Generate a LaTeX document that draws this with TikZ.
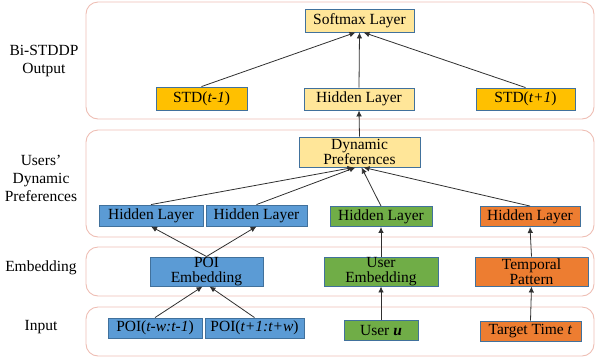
\documentclass[tikz,border=0pt]{standalone}
\usepackage{fontspec}
\setmainfont{Liberation Serif}
\usetikzlibrary{arrows.meta,calc}
\definecolor{lyellow}{HTML}{FFE699}
\definecolor{gold}{HTML}{FFC000}
\definecolor{bblue}{HTML}{5B9BD5}
\definecolor{bgreen}{HTML}{70AD47}
\definecolor{borange}{HTML}{ED7D31}
\definecolor{bedge}{HTML}{41719C}
\definecolor{panel}{RGB}{238,190,180}
\definecolor{arr}{HTML}{303030}
\tikzset{
  box/.style={rectangle,draw=bedge,line width=0.9pt,inner sep=0pt,align=center,
    font=\fontsize{15.5}{15.5}\selectfont},
  panelbox/.style={draw=panel,line width=0.9pt,rounded corners=12pt},
  lab/.style={align=center,font=\fontsize{15.5}{18}\selectfont},
  con/.style={draw=arr,line width=0.8pt,-{Latex[length=6pt,width=5.5pt]}},
}
\begin{document}
\begin{tikzpicture}[x=1pt,y=-1pt]
\useasboundingbox (0,0) rectangle (597,360);
% panels
\draw[panelbox] (86,2) rectangle (594,119);
\draw[panelbox] (86,130) rectangle (594,237);
\draw[panelbox] (86,247) rectangle (594,296);
\draw[panelbox] (86,307) rectangle (594,356);
% labels
\node[lab] (l1) at (44,61) {Bi-STDDP\\Output};
\node[lab] (l2) at (41,178) {Users'\\Dynamic\\Preferences};
\node[lab] (l3) at (41,268) {Embedding};
\node[lab] (l4) at (41,327) {Input};
% output layer
\node[box,fill=lyellow,minimum width=109,minimum height=23] (sm) at (359.5,20.5) {Softmax Layer};
\node[box,fill=gold,minimum width=91,minimum height=23] (stdm) at (201.5,98.5) {STD(\textit{t-1})};
\node[box,fill=lyellow,minimum width=110,minimum height=22] (hy) at (359,99) {Hidden Layer};
\node[box,fill=gold,minimum width=99,minimum height=22] (stdp) at (525.5,99) {STD(\textit{t+1})};
% dynamic preferences
\node[box,fill=lyellow,minimum width=121,minimum height=30] (dp) at (359.5,152) {Dynamic\\Preferences};
\node[box,fill=bblue,minimum width=104,minimum height=21] (hb1) at (151,215.5) {Hidden Layer};
\node[box,fill=bblue,minimum width=101,minimum height=21] (hb2) at (256.5,215.5) {Hidden Layer};
\node[box,fill=bgreen,minimum width=102,minimum height=20] (hg) at (381,216.5) {Hidden Layer};
\node[box,fill=borange,minimum width=100,minimum height=20] (ho) at (530,216.5) {Hidden Layer};
% embedding
\node[box,fill=bblue,minimum width=113,minimum height=29] (pe) at (206.5,271.5) {POI\\Embedding};
\node[box,fill=bgreen,minimum width=114,minimum height=29] (ue) at (381,271.5) {User\\Embedding};
\node[box,fill=borange,minimum width=113,minimum height=29] (tp) at (531.5,271.5) {Temporal\\Pattern};
% input
\node[box,fill=bblue,minimum width=94,minimum height=20] (p1) at (155,328) {POI(\textit{t-w:t-1})};
\node[box,fill=bblue,minimum width=99,minimum height=20] (p2) at (254.5,328) {POI(\textit{t+1:t+w})};
\node[box,fill=bgreen,minimum width=74,minimum height=20] (uu) at (381,330.5) {User \textbf{\textit{u}}};
\node[box,fill=borange,minimum width=101,minimum height=20] (tt) at (530.5,331) {Target Time \textit{t}};
% connectors
\draw[con] (stdm.north) -- ($(sm.south)+(-4,0)$);
\draw[con] (hy.north) -- (sm.south);
\draw[con] (stdp.north) -- ($(sm.south)+(4,0)$);
\draw[con] (dp.north) -- (hy.south);
\draw[con] (hb1.north) -- ($(dp.south)+(-6,0)$);
\draw[con] (hb2.north) -- ($(dp.south)+(-4,0)$);
\draw[con] (hg.north) -- ($(dp.south)+(2,0)$);
\draw[con] (ho.north) -- ($(dp.south)+(4,0)$);
\draw[con] (pe.north) -- (hb1.south);
\draw[con] (pe.north) -- (hb2.south);
\draw[con] (ue.north) -- (hg.south);
\draw[con] (tp.north) -- (ho.south);
\draw[con] (p1.north) -- ($(pe.south)+(-4,0)$);
\draw[con] (p2.north) -- ($(pe.south)+(3,0)$);
\draw[con] (uu.north) -- (ue.south);
\draw[con] (tt.north) -- (tp.south);
\end{tikzpicture}
\end{document}
